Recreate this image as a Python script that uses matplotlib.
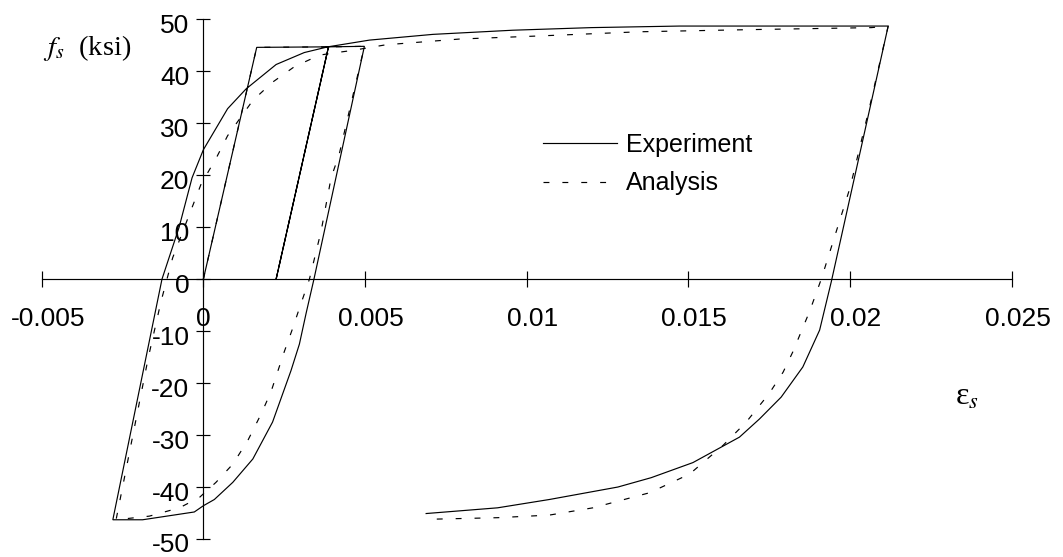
import matplotlib
matplotlib.use("Agg")
import matplotlib.pyplot as plt
from matplotlib.transforms import ScaledTranslation

plt.rcParams["font.family"] = ["Liberation Sans", "DejaVu Sans"]
plt.rcParams["mathtext.fontset"] = "stix"
plt.rcParams["axes.unicode_minus"] = False

# Experimental stress-strain history (strain, stress in ksi)
exp_strain = [0.0, 0.00165, 0.00387, 0.00225, 0.00387, 0.00498, 0.00342,
              0.00318, 0.00297, 0.00271, 0.00214, 0.00153, 0.00091, 0.00034,
              0.0, -0.00028, -0.00188, -0.0028,
              -0.00128, -0.00075, -0.00035, 0.0, 0.00075, 0.00132, 0.00225,
              0.00312, 0.00385, 0.00514, 0.0071, 0.00957, 0.0120, 0.01473,
              0.02118,
              0.01942, 0.01906, 0.01854, 0.01787, 0.0172, 0.01658, 0.01514,
              0.01385, 0.01282, 0.0107, 0.0091, 0.00689]
exp_stress = [0.0, 44.6, 44.7, 0.0, 44.7, 44.8, 0.0,
              -6.5, -12.5, -17.6, -27.5, -34.6, -39.1, -42.4,
              -43.6, -44.8, -46.3, -46.3,
              0.0, 10.0, 19.5, 24.9, 32.8, 36.6, 41.3,
              43.6, 44.7, 46.0, 47.1, 47.9, 48.4, 48.7,
              48.7,
              -0.5, -9.8, -16.9, -22.7, -26.9, -30.4, -35.3,
              -38.2, -40.0, -42.4, -44.0, -45.1]

# Analytical model response
ana_strain = [0.0, 0.00165, 0.00387, 0.00225, 0.00387, 0.00498, 0.0042,
              0.00395, 0.00364, 0.00328, 0.00297, 0.00276, 0.0025, 0.00209,
              0.00179, 0.00137, 0.00091, 0.00039, -0.00012, -0.00074,
              -0.00167, -0.0027,
              -0.0017, -0.00131, -0.00095, -0.00043, -0.00007, 0.00039,
              0.00075, 0.00153, 0.00214, 0.00282, 0.00359, 0.0040, 0.0046,
              0.00565, 0.00792, 0.0104, 0.01349, 0.0168, 0.02066, 0.02118,
              0.0206, 0.0200, 0.01911, 0.01875, 0.01849, 0.01823, 0.01793,
              0.0175, 0.01679, 0.01607, 0.01504, 0.0138, 0.01205, 0.0107,
              0.0091, 0.0070]
ana_stress = [0.0, 44.6, 44.7, 0.0, 44.7, 44.8, 24.0,
              19.5, 9.2, 0.0, -5.6, -9.5, -14.0, -21.7,
              -25.9, -31.1, -35.6, -39.1, -42.0, -44.0,
              -45.6, -46.3,
              -15.0, -4.3, 4.1, 12.5, 18.3, 23.2,
              27.6, 34.4, 37.9, 40.9, 43.1, 43.5, 44.0,
              45.1, 46.2, 46.8, 47.6, 48.0, 48.4, 48.7,
              33.0, 17.6, 0.0, -6.2, -10.1, -14.0, -17.9,
              -22.0, -27.5, -32.0, -37.5, -41.1, -44.0, -45.4,
              -45.9, -46.2]

x_ticks = [-0.005, 0, 0.005, 0.01, 0.015, 0.02, 0.025]
x_tick_labels = ["-0.005", "0", "0.005", "0.01", "0.015", "0.02", "0.025"]
y_ticks = [-50, -40, -30, -20, -10, 0, 10, 20, 30, 40, 50]

W, H = 1063, 557
fig = plt.figure(figsize=(W / 100, H / 100), dpi=100)
ax = fig.add_axes([41.7 / W, 1 - 539 / H, 970 / W, 519.7 / H])

ax.plot(exp_strain, exp_stress, color="black", lw=0.85, label="Experiment",
        solid_joinstyle="miter")
ax.plot(ana_strain, ana_stress, color="black", lw=0.85,
        linestyle=(0, (5, 11)), label="Analysis")

ax.set_xlim(-0.005, 0.025)
ax.set_ylim(-50, 50)

for side in ("top", "right"):
    ax.spines[side].set_visible(False)
ax.spines["left"].set_position(("data", 0))
ax.spines["bottom"].set_position(("data", 0))
for side in ("left", "bottom"):
    ax.spines[side].set_linewidth(0.85)

ax.set_xticks(x_ticks)
ax.set_xticklabels(x_tick_labels)
ax.set_yticks(y_ticks)
ax.tick_params(axis="x", direction="inout", length=11.5, width=0.85,
               pad=14, labelsize=19)
ax.tick_params(axis="y", direction="inout", length=10, width=0.85,
               pad=5, labelsize=19)

# shift the non-zero strain labels slightly to the right
for lab, val in zip(ax.get_xticklabels(), x_ticks):
    if val != 0:
        lab.set_transform(lab.get_transform() +
                          ScaledTranslation(6 / 100, 0, fig.dpi_scale_trans))
for lab in ax.get_yticklabels():
    lab.set_transform(lab.get_transform() +
                      ScaledTranslation(0, -4 / 100, fig.dpi_scale_trans))

fig.text(43 / W, 1 - 48 / H, r"$f_s$  (ksi)", fontsize=20.5,
         family=["Liberation Serif", "DejaVu Serif"], ha="left", va="center")
fig.text(955 / W, 1 - 397 / H, r"ε$_s$", fontsize=23,
         family=["Liberation Serif", "DejaVu Serif"], ha="left", va="center")

ax.legend(loc="center left", bbox_to_anchor=(543 / W, 1 - 164 / H),
          bbox_transform=fig.transFigure, frameon=False, fontsize=18,
          handlelength=2.96, handletextpad=0.36, labelspacing=0.58,
          borderpad=0, borderaxespad=0)

fig.savefig("out.png", dpi=100)
